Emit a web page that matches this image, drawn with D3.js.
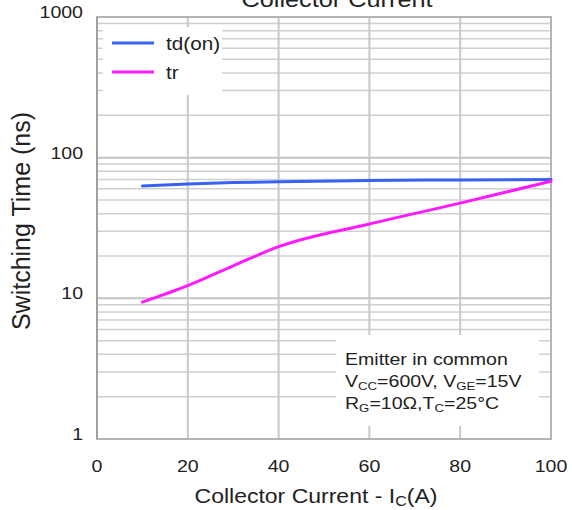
<!DOCTYPE html>
<html>
<head>
<meta charset="utf-8">
<script src="https://cdn.jsdelivr.net/npm/d3@7"></script>
<style>
  body { margin: 0; background: #fff; }
  svg { display: block; font-family: "Liberation Sans", Arial, sans-serif; }
</style>
</head>
<body>
<div id="chart"></div>
<script>
// data
const current = [10, 20, 30, 40, 60, 80, 100];
const tdOn = [63, 65, 66.5, 67.5, 68.8, 69.5, 70];
const tr = [9.4, 12.3, 17.0, 23.3, 33.8, 47.5, 68];
const xTicks = [0, 20, 40, 60, 80, 100];
const yTicks = [1, 10, 100, 1000];

const W = 572, H = 510;
const margin = { top: 17, right: 21, bottom: 71, left: 97 };
const innerW = W - margin.left - margin.right;
const innerH = H - margin.top - margin.bottom;
const SX = 1.15; // the reference text is a bit wide

const svg = d3.select("#chart").append("svg")
  .attr("width", W).attr("height", H);

const g = svg.append("g").attr("transform", `translate(${margin.left},${margin.top})`);

const x = d3.scaleLinear().domain([0, 100]).range([0, innerW]);
const y = d3.scaleLog().domain([1, 1000]).range([innerH, 0]);

// text stretched sideways, anchored at (px, py)
function stext(parent, px, py, size, anchor) {
  return parent.append("g").attr("transform", `translate(${px},${py}) scale(${SX},1)`)
    .append("text").attr("text-anchor", anchor || "start")
    .attr("font-size", size).attr("fill", "#222");
}
function sub(t, main, s, size) {
  t.append("tspan").text(main);
  t.append("tspan").attr("font-size", size).attr("dy", 3).text(s);
}

// minor grid
const minor = [];
for (const d of [1, 10, 100]) for (let k = 2; k <= 9; k++) minor.push(d * k);
g.selectAll(".minor").data(minor).enter().append("line")
  .attr("x1", 0).attr("x2", innerW)
  .attr("y1", d => y(d)).attr("y2", d => y(d))
  .attr("stroke", "#d0d0d0").attr("stroke-width", 1.5);

g.selectAll(".hmajor").data(yTicks).enter().append("line")
  .attr("x1", 0).attr("x2", innerW)
  .attr("y1", d => y(d)).attr("y2", d => y(d))
  .attr("stroke", "#c4c4c4").attr("stroke-width", 2);

g.selectAll(".vmajor").data(xTicks).enter().append("line")
  .attr("x1", d => x(d)).attr("x2", d => x(d))
  .attr("y1", 0).attr("y2", innerH)
  .attr("stroke", "#c8c8c8").attr("stroke-width", 2);

// frame
g.append("rect").attr("width", innerW).attr("height", innerH)
  .attr("fill", "none").attr("stroke", "#b4b4b4").attr("stroke-width", 2);
g.append("line").attr("x1", 0).attr("x2", 0).attr("y1", 0).attr("y2", innerH)
  .attr("stroke", "#a0a0a0").attr("stroke-width", 2);

// series
const line = d3.line().curve(d3.curveMonotoneX);
const series = [
  { name: "td(on)", vals: tdOn, color: "#3a62f2" },
  { name: "tr", vals: tr, color: "#ff1aff" }
];
for (const s of series) {
  g.append("path")
    .attr("d", line(current.map((c, i) => [x(c), y(s.vals[i])])))
    .attr("fill", "none").attr("stroke", s.color).attr("stroke-width", 3)
    .attr("stroke-linecap", "round");
}

// legend box
const lg = g.append("g").attr("transform", "translate(6,10)");
lg.append("rect").attr("width", 119).attr("height", 68).attr("fill", "#fff");
series.forEach((s, i) => {
  const yy = 16 + i * 29;
  lg.append("line").attr("x1", 9).attr("x2", 51).attr("y1", yy).attr("y2", yy)
    .attr("stroke", s.color).attr("stroke-width", 3);
  stext(lg, 63, yy + 7, 18).text(s.name);
});

// conditions box
const cb = g.append("g").attr("transform", `translate(${336 - margin.left},${335 - margin.top})`);
cb.append("rect").attr("width", 203).attr("height", 91).attr("fill", "#fff");
stext(cb, 9, 30, 17).text("Emitter in common");
const t2 = stext(cb, 9, 52, 17);
sub(t2, "V", "CC", 11.5);
t2.append("tspan").attr("dy", -3).text("=600V, ");
sub(t2, "V", "GE", 11.5);
t2.append("tspan").attr("dy", -3).text("=15V");
const t3 = stext(cb, 9, 74, 17);
sub(t3, "R", "G", 11.5);
t3.append("tspan").attr("dy", -3).text("=10Ω,");
sub(t3, "T", "C", 11.5);
t3.append("tspan").attr("dy", -3).text("=25°C");

// tick labels
xTicks.forEach(d => stext(g, x(d), innerH + 33, 17, "middle").text(d));
yTicks.forEach(d => stext(g, -14, y(d) + 1, 17, "end").text(d));

// axis titles
const xl = stext(svg, 316, 503, 20, "middle");
sub(xl, "Collector Current - I", "C", 14);
xl.append("tspan").attr("dy", -3).text("(A)");

svg.append("text")
  .attr("transform", "translate(30,221) rotate(-90)")
  .attr("text-anchor", "middle").attr("font-size", 25).attr("fill", "#222")
  .text("Switching Time (ns)");

stext(svg, 337, 7, 22, "middle").text("Collector Current");
</script>
</body>
</html>
